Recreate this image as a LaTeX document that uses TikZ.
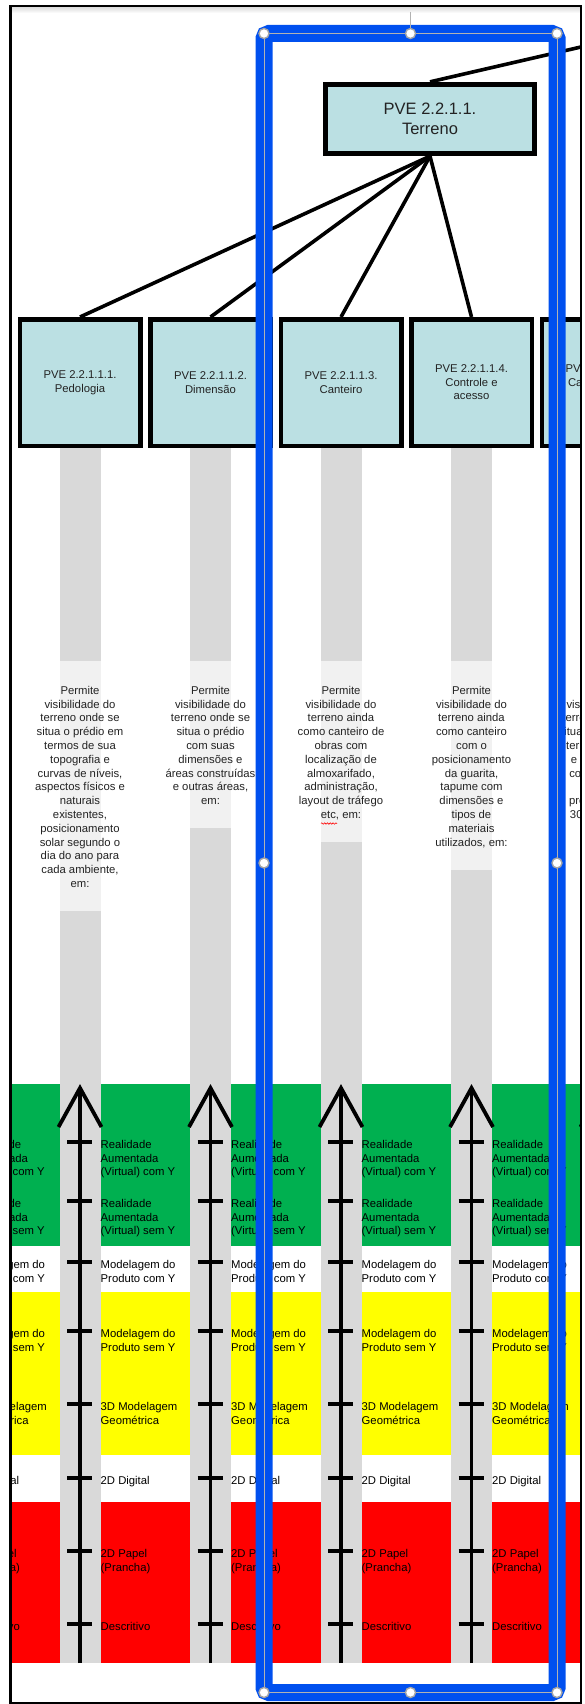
\documentclass[tikz,border=0pt]{standalone}
\usepackage{fontspec}
\setmainfont{Liberation Sans}
\usetikzlibrary{decorations.pathmorphing}
\definecolor{boxblue}{RGB}{187,224,227}
\definecolor{bargray}{RGB}{217,217,217}
\definecolor{lightbar}{RGB}{241,241,241}
\definecolor{bandgreen}{RGB}{0,176,80}
\definecolor{bandyellow}{RGB}{255,255,0}
\definecolor{bandred}{RGB}{255,0,0}
\definecolor{selblue}{RGB}{0,80,239}
\definecolor{txtdark}{RGB}{35,35,35}
\begin{document}
\begin{tikzpicture}[x=1pt,y=-1pt,
  cbox/.style={draw=black,line width=4.5pt,fill=boxblue,inner sep=0pt,minimum width=120.5pt,minimum height=126.5pt,align=center,text=txtdark,font=\fontsize{11.3}{13.6}\selectfont},
  tbox/.style={draw=black,line width=4.8pt,fill=boxblue,inner sep=0pt,minimum width=209pt,minimum height=69.5pt,align=center,text=txtdark,font=\fontsize{16.5}{20}\selectfont},
  conn/.style={draw=black,line width=3.6pt},
  desc/.style={anchor=north,inner sep=0pt,align=center,text=txtdark,font=\fontsize{11.3}{13.8}\selectfont},
  lab/.style={anchor=north west,inner sep=0pt,align=left,text=black,font=\fontsize{11.3}{13.6}\selectfont},
  axisline/.style={draw=black,line width=3.8pt},
  tickmark/.style={draw=black,line width=4pt},
  handle/.style={fill=white,draw=gray!70,line width=1.4pt}
]
\path[use as bounding box] (0,0) rectangle (584,1704);
\fill[white] (0,0) rectangle (584,1704);
\shade[top color=gray!30,bottom color=white] (11,6.5) rectangle (580,13);

\begin{scope}
\clip (11.6,7) rectangle (579.9,1701.6);
% colour bands
\fill[bandgreen] (0,1084) rectangle (600,1246);
\fill[bandyellow] (0,1292) rectangle (600,1455);
\fill[bandred] (0,1502) rectangle (600,1663);
% gray bars and light text areas
\foreach \c in {80,210.5,341,471.5,602} {
  \fill[bargray] (\c-20.5,448) rectangle (\c+20.5,1663);
}
\foreach \c/\n in {80/15,210.5/9,341/10,471.5/12,602/11} {
  \fill[lightbar] (\c-20.5,661) rectangle (\c+20.5,661+\n*13.8+43);
}
% descriptions
\node[desc] (d1) at (80,686) {Permite\\visibilidade do\\terreno onde se\\situa o prédio em\\termos de sua\\topografia e\\curvas de níveis,\\aspectos físicos e\\naturais\\existentes,\\posicionamento\\solar segundo o\\dia do ano para\\cada ambiente,\\em:};
\node[desc] (d2) at (210.5,686) {Permite\\visibilidade do\\terreno onde se\\situa o prédio\\com suas\\dimensões e\\áreas construídas\\e outras áreas,\\em:};
\node[desc] (d3) at (341,686) {Permite\\visibilidade do\\terreno ainda\\como canteiro de\\obras com\\localização de\\almoxarifado,\\administração,\\layout de tráfego\\etc, em:};
\node[desc] (d4) at (471.5,686) {Permite\\visibilidade do\\terreno ainda\\como canteiro\\com o\\posicionamento\\da guarita,\\tapume com\\dimensões e\\tipos de\\materiais\\utilizados, em:};
\node[desc] (d5) at (602,686) {Permite\\visibilidade do\\terreno onde se\\situa o prédio em\\termos de sua\\e sondagem\\com furos de\\até\\profundidade\\30 (trinta) m,\\em:};
\draw[red,line width=0.6pt,decorate,decoration={snake,amplitude=0.7pt,segment length=2.8pt}] (321,823.5) -- (337,823.5);
% axes with ticks
\foreach \c [count=\i] in {80,210.5,341,471.5,602} {
  \coordinate (ab\i) at (\c,1663);
  \coordinate (at\i) at (\c,1088);
  \draw[axisline] (ab\i) -- (at\i);
  \draw[axisline,line join=miter] (\c-21.5,1127) -- (at\i) -- (\c+21.5,1127);
  \foreach \y in {1142,1201,1262,1331,1404,1478,1551,1624} {
    \draw[tickmark] (\c-13,\y) -- (\c+12,\y);
  }
}
% level labels
\foreach \c [count=\i] in {-50.5,80,210.5,341,471.5} {
  \node[lab] (la\i) at (\c+20.5,1140) {Realidade\\Aumentada\\(Virtual) com Y};
  \node[lab] (lb\i) at (\c+20.5,1199) {Realidade\\Aumentada\\(Virtual) sem Y};
  \node[lab] (lc\i) at (\c+20.5,1260) {Modelagem do\\Produto com Y};
  \node[lab] (ld\i) at (\c+20.5,1329) {Modelagem do\\Produto sem Y};
  \node[lab] (le\i) at (\c+20.5,1402) {3D Modelagem\\Geométrica};
  \node[lab] (lf\i) at (\c+20.5,1476) {2D Digital};
  \node[lab] (lg\i) at (\c+20.5,1549) {2D Papel\\(Prancha)};
  \node[lab] (lh\i) at (\c+20.5,1622) {Descritivo};
}
% boxes
\node[tbox] (ter) at (430,119) {PVE 2.2.1.1.\\Terreno};
\coordinate (parent) at (600,42.6);
\node[cbox] (b1) at (80,382.5) {PVE 2.2.1.1.1.\\Pedologia};
\node[cbox] (b2) at (210.5,382.5) {PVE 2.2.1.1.2.\\Dimensão};
\node[cbox] (b3) at (341,382.5) {PVE 2.2.1.1.3.\\Canteiro};
\node[cbox] (b4) at (471.5,382.5) {PVE 2.2.1.1.4.\\Controle e\\acesso};
\node[cbox] (b5) at (602,382.5) {PVE 2.2.1.1.5.\\Canalizações\\e redes};
\draw[conn] (ter.north) -- (parent);
\foreach \b in {b1,b2,b3,b4} {
  \draw[conn] (ter.south) -- (\b.north);
}
\end{scope}

% screenshot frame
\draw[line width=2.4pt] (10.3,5.8) rectangle (581,1702.8);

% selection box
\draw[selblue,line width=17pt,rounded corners=5pt] (264,33.5) rectangle (557,1692.5);
\draw[gray!60,line width=0.8pt] (264,33.5) rectangle (557,1692.5);
\draw[gray!60,line width=1pt] (410.5,12) -- (410.5,28);
\foreach \p in {(264,33.5),(410.5,33.5),(557,33.5),(264,863),(557,863),(264,1692.5),(410.5,1692.5),(557,1692.5)} {
  \filldraw[handle] \p circle (5pt);
}
\end{tikzpicture}
\end{document}
